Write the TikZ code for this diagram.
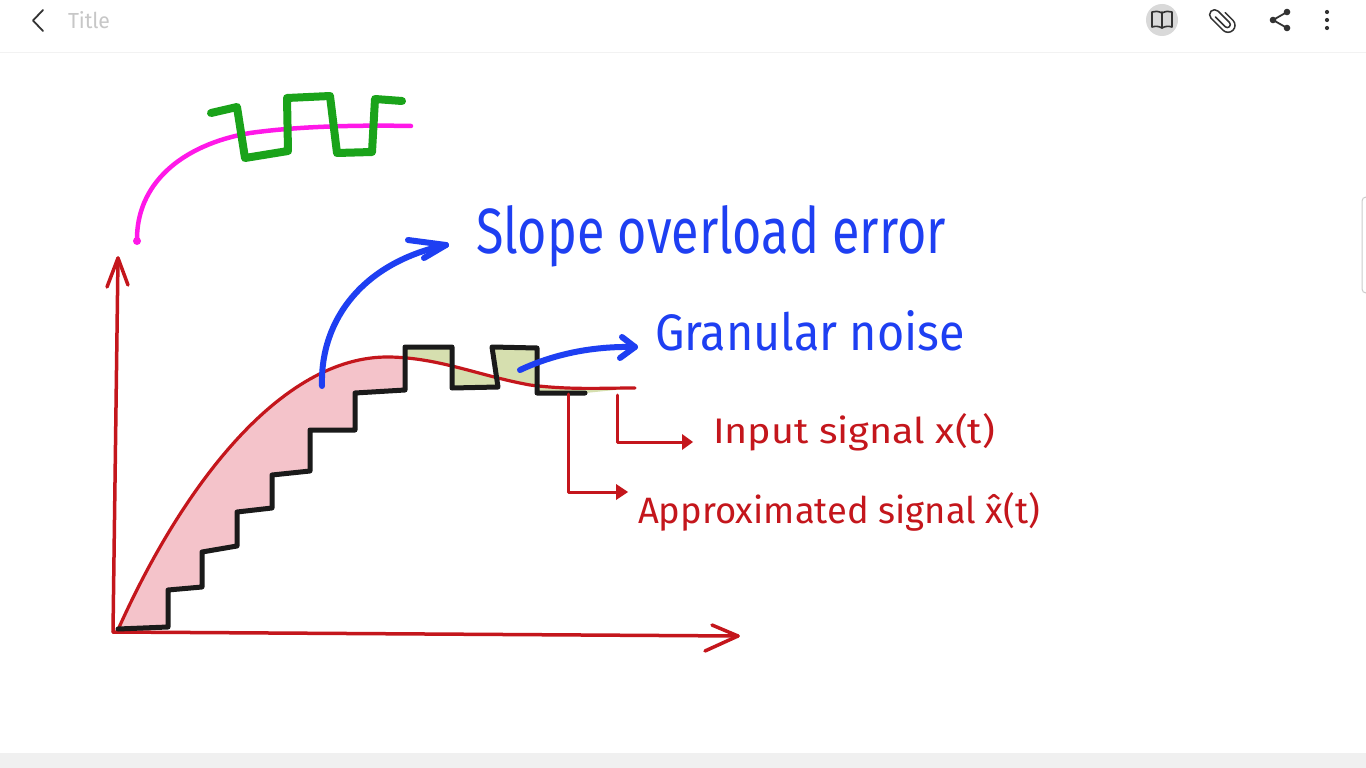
\documentclass[tikz,border=0pt]{standalone}
\usepackage{fontspec}
\setmainfont{Fira Sans}
\usepackage{graphicx}
\definecolor{penred}{HTML}{C4161C}
\definecolor{penblue}{HTML}{1E3FF2}
\definecolor{pengreen}{HTML}{1AA31A}
\definecolor{penmag}{HTML}{FF18E8}
\definecolor{penblack}{HTML}{1A1A1A}
\definecolor{pinkfill}{HTML}{F4C3CA}
\definecolor{olivefill}{HTML}{D6DFAF}
\definecolor{uigray}{HTML}{333333}
\tikzset{
  pen/.style={line cap=round,line join=round},
  redpen/.style={pen,draw=penred,line width=3.5pt},
  bluepen/.style={pen,draw=penblue,line width=6pt},
  blackpen/.style={pen,draw=penblack,line width=5pt},
  lbl/.style={inner sep=0pt,outer sep=0pt,anchor=base west},
  uiicon/.style={pen,draw=uigray,line width=1.8pt}
}
\newcommand{\fitw}[3]{\resizebox{#1}{#2}{#3}}
\newcommand{\inputcurve}{(117,632) .. controls (180,490) and (280,355) .. (390,357) .. controls (440,358) and (480,376) .. (530,385) .. controls (570,390) and (600,388) .. (635,388)}
\newcommand{\stairsback}{(585,393) -- (537,393) -- (537,348) -- (492,347) -- (498,387) -- (452,388) -- (452,347) -- (405,347) -- (405,390) -- (355,393) -- (355,430) -- (310,430) -- (310,471) -- (272,475) -- (272,508) -- (237,512) -- (237,546) -- (202,552) -- (202,587) -- (168,590) -- (168,627) -- (118,629)}
\begin{document}
\begin{tikzpicture}[x=1pt,y=-1pt]
\useasboundingbox (0,0) rectangle (1366,768);
\fill[white] (0,0) rectangle (1366,768);
% ---------- UI chrome ----------
\fill[black!6] (0,753) rectangle (1366,768);
\draw[black!5,line width=1pt] (0,53) -- (1366,53);
\draw[uiicon] (43,10) -- (33,20.5) -- (43,31);
\node[lbl,text=black!22] (title) at (68,29) {\fitw{42pt}{17pt}{Title}};
\fill[black!15] (1162,20) circle (16);
\draw[uiicon,line width=1.6pt] (1162,12) -- (1162,28);
\draw[uiicon,line width=1.6pt] (1162,13) .. controls (1158,11) and (1155,11) .. (1152,12) -- (1152,27) .. controls (1155,26) and (1159,26) .. (1162,28) .. controls (1165,26) and (1169,26) .. (1172,27) -- (1172,12) .. controls (1169,11) and (1166,11) .. (1162,13);
\begin{scope}[shift={(1222,20)},rotate=45]
\draw[uiicon,line width=1.5pt] (-2.5,-7) -- (-2.5,7) arc (180:0:3) -- (3.5,-9) arc (0:-180:5) -- (-6.5,8) arc (180:0:7) -- (7.5,-3);
\end{scope}
\fill[uigray] (1287,12) circle (3.3) (1273,20) circle (3.3) (1287,28) circle (3.3);
\draw[uigray,line width=1.8pt] (1287,12) -- (1273,20) -- (1287,28);
\fill[uigray] (1327,12) circle (2.1) (1327,20) circle (2.1) (1327,28) circle (2.1);
\draw[black!20,line width=1pt,rounded corners=4pt] (1370,197) -- (1362,197) -- (1362,293) -- (1370,293);
% ---------- fills between curve and staircase ----------
\begin{scope}
\clip (0,0) rectangle (405,768);
\fill[pinkfill] \inputcurve -- \stairsback -- cycle;
\end{scope}
\begin{scope}
\clip (405,0) rectangle (700,768);
\fill[olivefill] \inputcurve -- \stairsback -- cycle;
\end{scope}
% ---------- axes ----------
\coordinate (O) at (113,632);
\coordinate (ytip) at (118,258);
\coordinate (xtip) at (738,636);
\draw[redpen] (O) -- (ytip);
\draw[redpen] (107,287) -- (ytip) -- (128,285);
\draw[redpen] (O) -- (xtip);
\draw[redpen] (712,625) -- (xtip) -- (705,651);
% ---------- input signal curve ----------
\draw[redpen,line width=3.2pt] \inputcurve;
% ---------- staircase ----------
\draw[blackpen] (118,629) -- (168,627) -- (168,590) -- (202,587) -- (202,552) -- (237,546) -- (237,512) -- (272,508) -- (272,475) -- (310,471) -- (310,430) -- (355,430) -- (355,393) -- (405,390) -- (405,347) -- (452,347) -- (452,388) -- (498,387) -- (492,347) -- (537,348) -- (537,393) -- (585,393);
% ---------- labels ----------
\node[lbl,text=penblue] (slope) at (476,253) {\fitw{470pt}{48pt}{Slope overload error}};
\node[lbl,text=penblue] (gran) at (655,350) {\fitw{310pt}{40pt}{Granular noise}};
\node[lbl,text=penred] (inp) at (713,443) {\fitw{282pt}{30pt}{Input signal x(t)}};
\node[lbl,text=penred] (appr) at (638,523) {\fitw{402pt}{31pt}{Approximated signal \^{x}(t)}};
% blue arrows
\coordinate (b1s) at (322,386);
\coordinate (b1t) at (446,245);
\draw[bluepen] (b1s) .. controls (320,318) and (365,262) .. (b1t);
\draw[bluepen] (408,240) -- (b1t) -- (424,258);
\coordinate (b2s) at (520,370);
\coordinate (b2t) at (635,347);
\draw[bluepen] (b2s) .. controls (552,355) and (590,346) .. (b2t);
\draw[bluepen] (622,337) -- (b2t) -- (620,358);
% red label connectors
\coordinate (r1s) at (617,395);
\coordinate (r1c) at (617,442);
\coordinate (r1t) at (693,442);
\draw[redpen,line width=3pt] (r1s) -- (r1c) -- (683,442);
\fill[penred] (r1t) -- (682,434) -- (682,450) -- cycle;
\coordinate (r2s) at (568,394);
\coordinate (r2c) at (568,492);
\coordinate (r2t) at (628,492);
\draw[redpen,line width=3pt] (r2s) -- (r2c) -- (617,492);
\fill[penred] (r2t) -- (616,484) -- (616,500) -- cycle;
% ---------- magenta curve and green square wave ----------
\draw[pen,draw=penmag,line width=4.5pt] (137,241) .. controls (136,185) and (180,145) .. (250,133) .. controls (300,126) and (360,125) .. (411,126);
\fill[penmag] (137,241) circle (4);
\draw[pen,draw=pengreen,line width=8pt] (211,113) -- (237,107) -- (245,158) -- (288,151) -- (287,98) -- (330,96) -- (337,153) -- (372,152) -- (375,99) -- (402,101);
\end{tikzpicture}
\end{document}
